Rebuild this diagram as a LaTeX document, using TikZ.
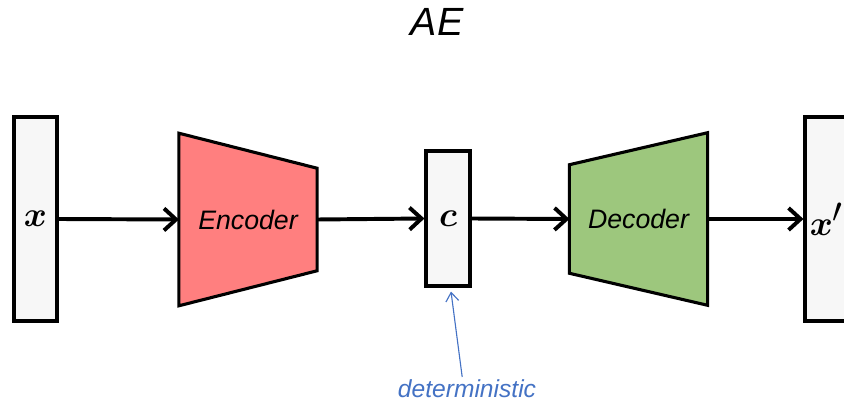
\documentclass[tikz,border=0pt]{standalone}
\usepackage{amsmath,amssymb,bm}
\usepackage{fontspec}
\setmainfont{Liberation Sans}
\usetikzlibrary{arrows.meta, calc, backgrounds}
\definecolor{vecgray}{rgb}{0.97, 0.97, 0.97}
\definecolor{encred}{RGB}{255, 127, 127}
\definecolor{decgreen}{RGB}{157, 199, 125}
\definecolor{noteblue}{RGB}{68, 114, 196}

\begin{document}
\begin{tikzpicture}[
				vecbox/.style={draw=black, line width=2.2pt, fill=vecgray, minimum width=1.075cm, inner sep=0pt, font=\fontsize{34}{38}\selectfont},
				coder/.style={minimum height=4.3cm, minimum width=3.44cm, inner sep=0pt, font=\fontsize{19}{22}\selectfont\itshape},
				trap/.style={draw=black, line width=2.2pt, line join=miter},
				arrowstyle/.style={-{Straight Barb[length=3mm, width=5.5mm]}, line width=2.8pt, black},
				noteline/.style={-{Straight Barb[length=2.2mm, width=3.2mm]}, line width=0.8pt, noteblue}
			]
			\useasboundingbox (0,0) rectangle (21.1,-10.025);
			\clip (0,0) rectangle (21.1,-10.025);

			% Title
			\node[font=\fontsize{28}{32}\selectfont\itshape] (title) at (10.925,-0.55) {AE};

			% Main row nodes
			\node[vecbox, minimum height=5.1cm] (xin) at (0.8875,-5.475) {$\bm{x}$};
			\node[coder] (enc) at (6.2,-5.4875) {Encoder};
			\node[vecbox, minimum width=1.1cm, minimum height=3.375cm] (code) at (11.2,-5.4625) {$\bm{c}$};
			\node[coder] (dec) at (15.9625,-5.475) {Decoder};
			\node[vecbox, minimum height=5.1cm] (xout) at (20.6625,-5.475) {$\bm{x}'$};

			% Trapezoids behind the coder labels
			\begin{scope}[on background layer]
			\draw[trap, fill=encred] (enc.north west) -- ([yshift=-0.875cm]enc.north east) -- ([yshift=0.875cm]enc.south east) -- (enc.south west) -- cycle;
			\draw[trap, fill=decgreen] ([yshift=-0.8cm]dec.north west) -- (dec.north east) -- (dec.south east) -- ([yshift=0.8cm]dec.south west) -- cycle;
			\end{scope}

			% Forward arrows
			\draw[arrowstyle] (xin.east) -- (enc.west);
			\draw[arrowstyle] (enc.east) -- (code.west);
			\draw[arrowstyle] (code.east) -- (dec.west);
			\draw[arrowstyle] (dec.east) -- (xout.west);

			% Note under the code
			\node[font=\fontsize{17.5}{20}\selectfont\itshape, text=noteblue] (det) at (11.675,-9.725) {deterministic};
			\draw[noteline] ([xshift=-0.12cm, yshift=-0.05cm]det.north) -- ([xshift=0.075cm, yshift=-0.1cm]code.south);

		\end{tikzpicture}
\end{document}
